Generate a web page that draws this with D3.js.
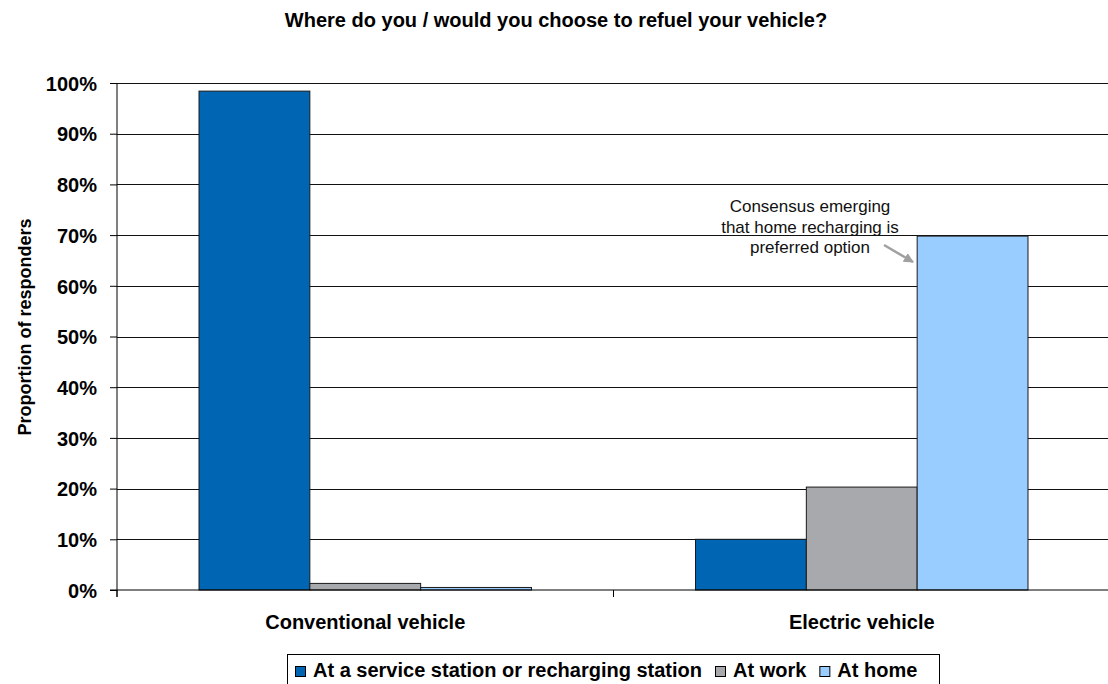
<!DOCTYPE html>
<html>
<head>
<meta charset="utf-8">
<script src="https://cdn.jsdelivr.net/npm/d3@7"></script>
<style>
  body { margin: 0; background: #fff; }
  svg { font-family: Arial, "Liberation Sans", sans-serif; }
</style>
</head>
<body>
<script>
var width = 1108;
var height = 684;
var margin = { left: 117, top: 83, right: -2, bottom: 94 };

var categories = ['Conventional vehicle', 'Electric vehicle'];
var seriesNames = ['At a service station or recharging station', 'At work', 'At home'];
var seriesColors = ['#0066b3', '#a7a9ac', '#99ccff'];
var serviceStation = [98.4, 10.0];
var atWork = [1.3, 20.3];
var atHome = [0.5, 69.8];
var yTicks = [0, 10, 20, 30, 40, 50, 60, 70, 80, 90, 100];

var seriesValues = [serviceStation, atWork, atHome];

var svg = d3.select('body')
            .append('svg')
            .attr('width', width)
            .attr('height', height);

var xScale = d3.scaleBand()
                .domain(categories)
                .range([margin.left, width - margin.right]);

var groupScale = d3.scaleBand()
                .domain(seriesNames)
                .range([0, xScale.bandwidth()])
                .paddingOuter(0.74)
                .paddingInner(0);

var yScale = d3.scaleLinear()
                .domain([0, 100])
                .range([height - margin.bottom, margin.top]);

// gridlines
svg.append('g')
    .selectAll('line')
    .data(yTicks.slice(1))
    .enter()
    .append('line')
    .attr('x1', margin.left)
    .attr('x2', width)
    .attr('y1', function (d) { return Math.round(yScale(d)) + 0.5; })
    .attr('y2', function (d) { return Math.round(yScale(d)) + 0.5; })
    .attr('stroke', '#111')
    .attr('stroke-width', 1);

// bars
var rows = [];
categories.forEach(function (c, i) {
  seriesNames.forEach(function (s, j) {
    rows.push({ cat: c, series: s, value: seriesValues[j][i], color: seriesColors[j] });
  });
});

svg.append('g')
    .selectAll('rect')
    .data(rows)
    .enter()
    .append('rect')
    .attr('x', function (d) { return xScale(d.cat) + groupScale(d.series); })
    .attr('width', groupScale.bandwidth())
    .attr('y', function (d) { return yScale(d.value); })
    .attr('height', function (d) { return yScale(0) - yScale(d.value); })
    .attr('fill', function (d) { return d.color; })
    .attr('stroke', '#1a1a1a')
    .attr('stroke-width', 1);

// y axis
var yAxis = svg.append('g')
    .attr('transform', 'translate(' + margin.left + ',0)')
    .call(d3.axisLeft(yScale)
      .tickValues(yTicks)
      .tickSize(7)
      .tickPadding(13)
      .tickFormat(function (d) { return d + '%'; }));
yAxis.select('.domain').attr('d', 'M0,' + margin.top + 'V' + (height - margin.bottom + 7));
yAxis.selectAll('text')
    .attr('dy', '0.36em')
    .style('font-size', '20px')
    .style('font-weight', 'bold')
    .attr('fill', '#000');

// x axis
var xAxisY = yScale(0);
var xAxis = svg.append('g').attr('transform', 'translate(0,' + xAxisY + ')');
xAxis.append('line')
    .attr('x1', margin.left - 7)
    .attr('x2', width)
    .attr('stroke', '#000')
    .attr('stroke-width', 1.2);
xAxis.selectAll('.tick')
    .data(categories)
    .enter()
    .append('line')
    .attr('x1', function (d) { return xScale(d); })
    .attr('x2', function (d) { return xScale(d); })
    .attr('y1', 0)
    .attr('y2', 7)
    .attr('stroke', '#000');
xAxis.selectAll('.label')
    .data(categories)
    .enter()
    .append('text')
    .attr('x', function (d) { return xScale(d) + xScale.bandwidth() / 2; })
    .attr('y', 39)
    .attr('text-anchor', 'middle')
    .style('font-size', '20px')
    .style('font-weight', 'bold')
    .text(function (d) { return d; });

// title
svg.append('text')
    .attr('x', 556)
    .attr('y', 27)
    .attr('text-anchor', 'middle')
    .style('font-size', '20px')
    .style('font-weight', 'bold')
    .text('Where do you / would you choose to refuel your vehicle?');

// y label
svg.append('text')
    .attr('transform', 'translate(31,327) rotate(-90)')
    .attr('text-anchor', 'middle')
    .style('font-size', '18px')
    .style('font-weight', 'bold')
    .text('Proportion of responders');

// annotation
var note = svg.append('text')
    .attr('text-anchor', 'middle')
    .style('font-size', '17px')
    .attr('fill', '#111');
['Consensus emerging', 'that home recharging is', 'preferred option'].forEach(function (t, i) {
  note.append('tspan')
      .attr('x', 810)
      .attr('y', 212 + i * 20.5)
      .text(t);
});

svg.append('defs').append('marker')
    .attr('id', 'arrow')
    .attr('viewBox', '0 0 10 10')
    .attr('refX', 9)
    .attr('refY', 5)
    .attr('markerWidth', 4)
    .attr('markerHeight', 4)
    .attr('orient', 'auto')
  .append('path')
    .attr('d', 'M0,0L10,5L0,10z')
    .attr('fill', '#a0a0a0');

svg.append('line')
    .attr('x1', 884)
    .attr('y1', 245)
    .attr('x2', 913)
    .attr('y2', 262)
    .attr('stroke', '#a0a0a0')
    .attr('stroke-width', 2.5)
    .attr('marker-end', 'url(#arrow)');

// legend
var legend = svg.append('g');
legend.append('rect')
    .attr('x', 287.5)
    .attr('y', 654.5)
    .attr('width', 652)
    .attr('height', 40)
    .attr('fill', '#fff')
    .attr('stroke', '#000');

var lx = 295;
seriesNames.forEach(function (s, i) {
  var g = legend.append('g').attr('transform', 'translate(' + lx + ',666)');
  g.append('rect')
      .attr('x', 0.5)
      .attr('y', 0.5)
      .attr('width', 10)
      .attr('height', 10)
      .attr('fill', seriesColors[i])
      .attr('stroke', '#000');
  var t = g.append('text')
      .attr('x', 18)
      .attr('y', 11)
      .style('font-size', '20px')
      .style('font-weight', 'bold')
      .text(s);
  lx += 18 + t.node().getComputedTextLength() + 13;
});
</script>
</body>
</html>
